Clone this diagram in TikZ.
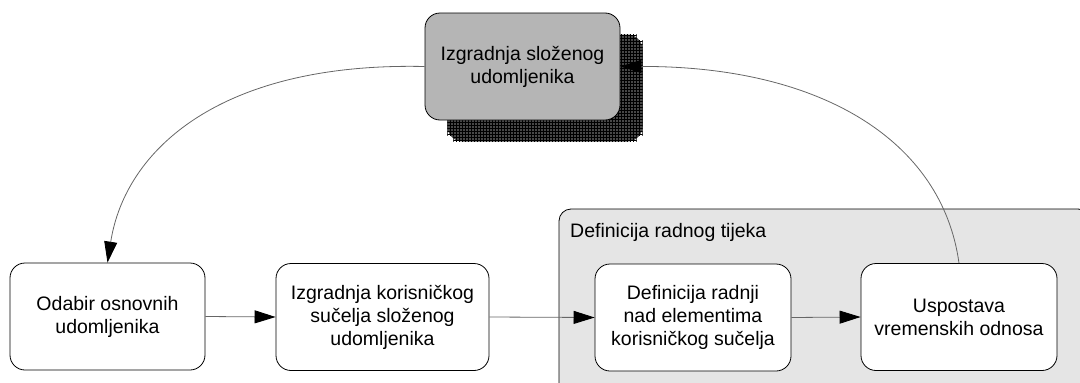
\documentclass[tikz,border=0pt]{standalone}
\usepackage{fontspec}
\setmainfont{Liberation Sans}
\usetikzlibrary{arrows.meta,patterns}
\tikzset{
  procbox/.style={draw=black, line width=0.8pt, rounded corners=15pt, fill=white,
    minimum width=195pt, minimum height=107pt, align=center, inner sep=2pt,
    font=\fontsize{19.5pt}{23pt}\selectfont},
  topbox/.style={procbox, fill=black!29},
  shadowbox/.style={rounded corners=15pt, fill=black!72, minimum width=195pt, minimum height=107pt},
  groupbox/.style={draw=black, line width=0.8pt, rounded corners=12pt, fill=black!10},
  conn/.style={draw=black!60, line width=0.8pt, -{Triangle[length=21pt,width=13pt,color=black,fill=black]}},
  grouptitle/.style={anchor=base west, inner sep=0pt, font=\fontsize{19.5pt}{23pt}\selectfont}
}
\begin{document}
\begin{tikzpicture}[x=1pt,y=-1pt]
\useasboundingbox (0,0) rectangle (1080,383);
\clip (0,0) rectangle (1080,383);
% group
\draw[groupbox] (559,209) rectangle (1090,395);
\node[grouptitle] (gtitle) at (570,237) {Definicija radnog tijeka};
% shadow and top box
\node[shadowbox] (shadow) at (545,88) {};
\fill[pattern=grid, pattern color=black] ([xshift=6pt]shadow.south west) rectangle ([xshift=-6pt]shadow.north east);
\fill[pattern=grid, pattern color=black] ([yshift=6pt]shadow.south west) rectangle ([yshift=-6pt]shadow.north east);
\node[topbox] (top) at (522.5,66.5) {Izgradnja složenog\\udomljenika};
% bottom boxes
\node[procbox] (b1) at (107.5,316.5) {Odabir osnovnih\\udomljenika};
\node[procbox, minimum width=213pt] (b2) at (382.5,317) {Izgradnja korisničkog\\sučelja složenog\\udomljenika};
\node[procbox, minimum width=196pt] (b3) at (693,317.5) {Definicija radnji\\nad elementima\\korisničkog sučelja};
\node[procbox, minimum width=196pt] (b4) at (959,317) {Uspostava\\vremenskih odnosa};
% connectors
\draw[conn] (b1.east) -- (b2.west);
\draw[conn] (b2.east) -- (b3.west);
\draw[conn] (b3.east) -- (b4.west);
\draw[conn] (top.west) .. controls (220,62) and (125,150) .. (b1.north);
\draw[conn] (b4.north) .. controls (942,140) and (820,66) .. (top.east);
\end{tikzpicture}
\end{document}
